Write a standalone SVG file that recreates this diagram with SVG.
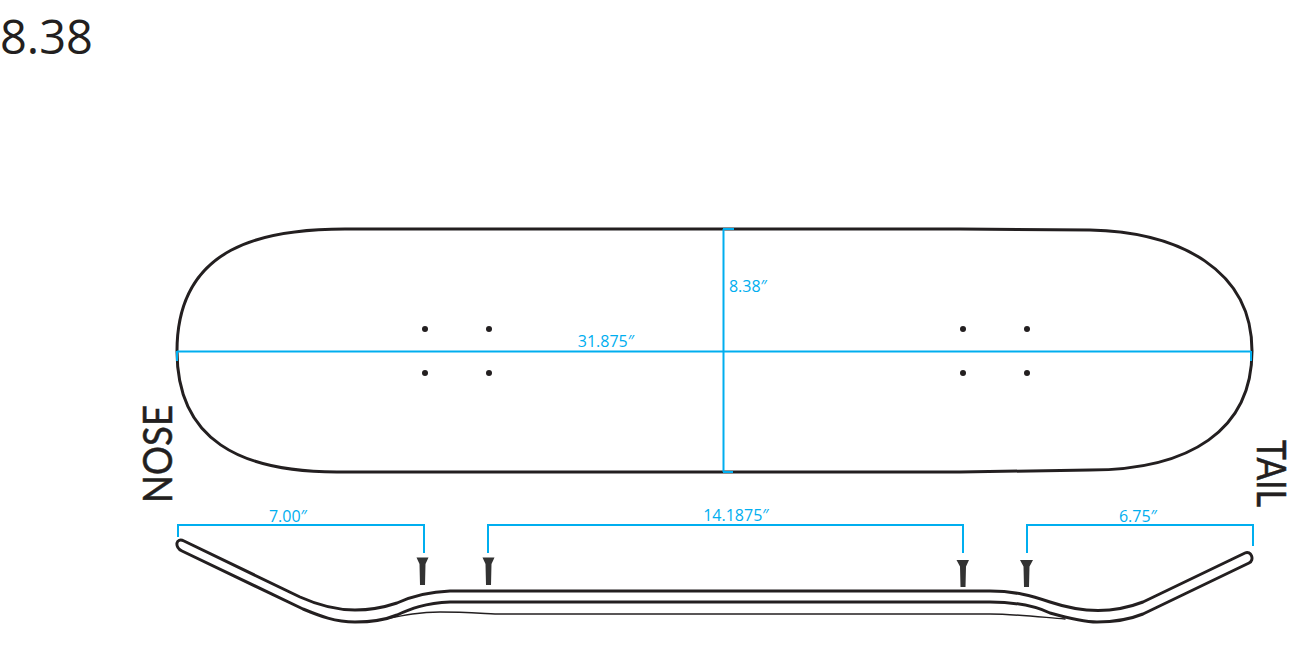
<svg xmlns="http://www.w3.org/2000/svg" width="1300" height="653" viewBox="0 0 1300 653">
<style>
.k{fill:none;stroke:#231f20;stroke-linecap:round;stroke-linejoin:round}
.d{fill:none;stroke:#00aeef;stroke-width:2}
.m{font-family:"Open Sans","Noto Sans",sans-serif;font-size:16px;fill:#00aeef;text-anchor:middle}
.n{font-family:"Lato","Noto Sans",sans-serif;font-size:40px;fill:#231f20;stroke:#231f20;stroke-width:.5}
.h{fill:#231f20}
.t{fill:#333}
</style>
<rect width="1300" height="653" fill="#fff"/>
<text x="0" y="54" font-family="'Open Sans','Noto Sans',sans-serif" font-size="47" fill="#231f20">8.38</text>
<g id="deck">
<path class="k" stroke-width="3" d="M345 229H960L1090 230C1180 232 1252 270 1252 351C1252 430 1190 470 1090 470L960 472H337C240 472 177 440 177 351C177 245 265 229 345 229Z"/>
</g>
<g id="holes">
<circle class="h" cx="425" cy="329" r="3"/><circle class="h" cx="489" cy="329" r="3"/><circle class="h" cx="425" cy="373" r="3"/><circle class="h" cx="489" cy="373" r="3"/>
<circle class="h" cx="963" cy="329" r="3"/><circle class="h" cx="1027" cy="329" r="3"/><circle class="h" cx="963" cy="373" r="3"/><circle class="h" cx="1027" cy="373" r="3"/>
</g>
<g id="profile">
<path class="k" stroke-width="3" d="M184 541L300 597C320 606 337 610 355 610C372 610 385 607 397 603C408 598 423 592 450 591H990C1015 591 1032 596 1050 602C1065 607 1080 610.500 1098 610.500C1115 610.500 1130 607 1143 602L1245 553C1251 550 1255 560 1249 563L1143 614C1128 620 1112 622 1097 622C1083 622 1068 618 1050 613C1035 606 1015 602 990 602H450C425 603 410 609 397 615C385 620 370 622 355 622C335 622 320 616 303 609L182 551C174 547 176 537 184 541Z"/>
<path class="k" stroke-width="1.500" d="M385 619C405 615 420 612 440 612C460 612 475 613 495 614H990C1015 614 1040 617 1065 619"/>
</g>
<g id="trucks">
<path class="t" d="M416.500 557.500H428.500L425.500 564L425 585H420L419.500 564Z"/>
<path class="t" d="M482.500 557.500H494.500L491.500 564L491 585H486L485.500 564Z"/>
<path class="t" d="M956.500 560H969L966 566.500L965.500 587H960.500L960 566.500Z"/>
<path class="t" d="M1020 560H1033L1029.500 566.500L1029 587H1024L1023.500 566.500Z"/>
</g>
<g id="dimensions">
<path class="d" d="M177 351.500H1251M723.500 229V472M723 229H734M723 472H733M177 351V361M1251 351V361"/>
<path class="d" d="M178 537V525H424V553M488 553V525H963V553M1027 553V525H1253V546"/>
</g>
<g id="labels">
<text class="m" x="606" y="347">31.875″</text>
<text class="m" x="748" y="292">8.38″</text>
<text class="m" x="288" y="522">7.00″</text>
<text class="m" x="736" y="521">14.1875″</text>
<text class="m" x="1138" y="522">6.75″</text>
<text class="n" transform="translate(172 503) rotate(-90)" textLength="98" lengthAdjust="spacingAndGlyphs">NOSE</text>
<text class="n" transform="translate(1257 440) rotate(90)" textLength="67" lengthAdjust="spacingAndGlyphs">TAIL</text>
</g>
</svg>
